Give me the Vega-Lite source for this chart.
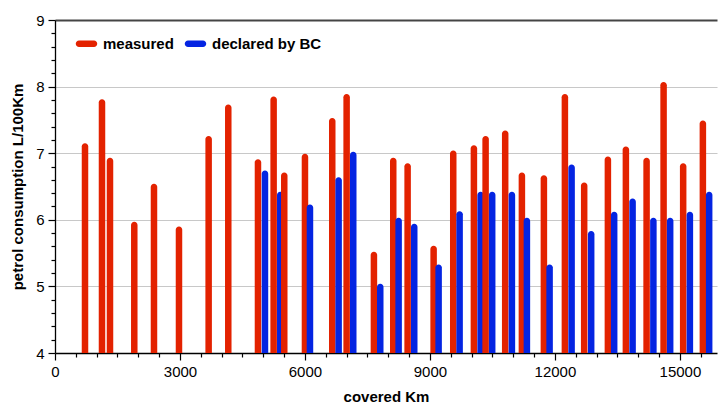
{
  "$schema": "https://vega.github.io/schema/vega-lite/v6.json",
  "width": 662,
  "height": 333,
  "autosize": {"type": "none"},
  "padding": {"left": 55, "top": 20, "right": 1, "bottom": 55},
  "background": "white",
  "config": {
    "view": {"stroke": null},
    "font": "Liberation Sans"
  },
  "data": {
    "values": [
      {"km": 720, "v": 7.15, "s": "measured"},
      {"km": 1128, "v": 7.81, "s": "measured"},
      {"km": 1320, "v": 6.93, "s": "measured"},
      {"km": 1903, "v": 5.97, "s": "measured"},
      {"km": 2376, "v": 6.54, "s": "measured"},
      {"km": 2976, "v": 5.90, "s": "measured"},
      {"km": 3688, "v": 7.26, "s": "measured"},
      {"km": 4159, "v": 7.73, "s": "measured"},
      {"km": 4872, "v": 6.91, "s": "measured"},
      {"km": 5040, "v": 6.74, "s": "declared by BC"},
      {"km": 5248, "v": 7.85, "s": "measured"},
      {"km": 5407, "v": 6.42, "s": "declared by BC"},
      {"km": 5503, "v": 6.71, "s": "measured"},
      {"km": 6000, "v": 6.99, "s": "measured"},
      {"km": 6120, "v": 6.23, "s": "declared by BC"},
      {"km": 6655, "v": 7.53, "s": "measured"},
      {"km": 6808, "v": 6.64, "s": "declared by BC"},
      {"km": 7000, "v": 7.89, "s": "measured"},
      {"km": 7159, "v": 7.02, "s": "declared by BC"},
      {"km": 7655, "v": 5.52, "s": "measured"},
      {"km": 7807, "v": 5.04, "s": "declared by BC"},
      {"km": 8119, "v": 6.93, "s": "measured"},
      {"km": 8248, "v": 6.03, "s": "declared by BC"},
      {"km": 8464, "v": 6.85, "s": "measured"},
      {"km": 8623, "v": 5.94, "s": "declared by BC"},
      {"km": 9088, "v": 5.61, "s": "measured"},
      {"km": 9208, "v": 5.33, "s": "declared by BC"},
      {"km": 9559, "v": 7.04, "s": "measured"},
      {"km": 9712, "v": 6.13, "s": "declared by BC"},
      {"km": 10055, "v": 7.12, "s": "measured"},
      {"km": 10216, "v": 6.42, "s": "declared by BC"},
      {"km": 10336, "v": 7.26, "s": "measured"},
      {"km": 10494, "v": 6.42, "s": "declared by BC"},
      {"km": 10806, "v": 7.34, "s": "measured"},
      {"km": 10967, "v": 6.42, "s": "declared by BC"},
      {"km": 11207, "v": 6.71, "s": "measured"},
      {"km": 11327, "v": 6.03, "s": "declared by BC"},
      {"km": 11735, "v": 6.67, "s": "measured"},
      {"km": 11872, "v": 5.33, "s": "declared by BC"},
      {"km": 12239, "v": 7.89, "s": "measured"},
      {"km": 12400, "v": 6.83, "s": "declared by BC"},
      {"km": 12702, "v": 6.56, "s": "measured"},
      {"km": 12870, "v": 5.83, "s": "declared by BC"},
      {"km": 13271, "v": 6.95, "s": "measured"},
      {"km": 13422, "v": 6.12, "s": "declared by BC"},
      {"km": 13703, "v": 7.10, "s": "measured"},
      {"km": 13864, "v": 6.32, "s": "declared by BC"},
      {"km": 14200, "v": 6.93, "s": "measured"},
      {"km": 14363, "v": 6.03, "s": "declared by BC"},
      {"km": 14608, "v": 8.07, "s": "measured"},
      {"km": 14766, "v": 6.03, "s": "declared by BC"},
      {"km": 15078, "v": 6.85, "s": "measured"},
      {"km": 15239, "v": 6.12, "s": "declared by BC"},
      {"km": 15551, "v": 7.49, "s": "measured"},
      {"km": 15702, "v": 6.42, "s": "declared by BC"}
    ]
  },
  "mark": {
    "type": "bar",
    "size": 6.5,
    "cornerRadiusTopLeft": 3.2,
    "cornerRadiusTopRight": 3.2,
    "clip": true
  },
  "encoding": {
    "x": {
      "field": "km",
      "type": "quantitative",
      "scale": {"domain": [0, 15890], "nice": false, "zero": false, "padding": 0},
      "axis": {
        "title": "covered Km",
        "titleFont": "Liberation Sans",
        "titleFontSize": 15,
        "titleFontWeight": "bold",
        "titleColor": "black",
        "titlePadding": 10,
        "values": [0,500,1000,1500,2000,2500,3000,3500,4000,4500,5000,5500,6000,6500,7000,7500,8000,8500,9000,9500,10000,10500,11000,11500,12000,12500,13000,13500,14000,14500,15000,15500],
        "labelExpr": "datum.value % 3000 === 0 ? datum.value : ''",
        "labelFont": "Liberation Sans",
        "labelFontSize": 15,
        "labelColor": "black",
        "labelPadding": 4,
        "labelFlush": false,
        "labelOverlap": false,
        "grid": false,
        "domainColor": "black",
        "domainWidth": 1.3,
        "tickColor": "black",
        "tickWidth": 1.2,
        "tickSize": {"condition": {"test": "datum.value % 3000 === 0", "value": 7}, "value": 4}
      }
    },
    "y": {
      "field": "v",
      "type": "quantitative",
      "scale": {"domain": [4, 9], "nice": false, "zero": false, "padding": 0},
      "axis": {
        "title": "petrol consumption L/100Km",
        "titleFont": "Liberation Sans",
        "titleFontSize": 15,
        "titleFontWeight": "bold",
        "titleColor": "black",
        "titlePadding": 10,
        "values": [4,4.2,4.4,4.6,4.8,5,5.2,5.4,5.6,5.8,6,6.2,6.4,6.6,6.8,7,7.2,7.4,7.6,7.8,8,8.2,8.4,8.6,8.8,9],
        "labelExpr": "datum.value % 1 === 0 ? datum.value : ''",
        "labelFont": "Liberation Sans",
        "labelFontSize": 15,
        "labelColor": "black",
        "labelPadding": 4,
        "labelFlush": false,
        "labelOverlap": false,
        "domainColor": "black",
        "domainWidth": 1.3,
        "tickColor": "black",
        "tickWidth": 1.2,
        "tickSize": {"condition": {"test": "datum.value % 1 === 0", "value": 7}, "value": 4},
        "grid": true,
        "gridColor": {"condition": {"test": "datum.value === 9", "value": "#444444"}, "value": "#c8c8c8"},
        "gridWidth": {"condition": {"test": "datum.value === 9", "value": 2}, "value": 1.2},
        "gridOpacity": {"condition": {"test": "datum.value % 1 === 0 && datum.value > 4", "value": 1}, "value": 0}
      }
    },
    "y2": {"datum": 4},
    "color": {
      "field": "s",
      "type": "nominal",
      "scale": {"domain": ["measured", "declared by BC"], "range": ["#e32200", "#0424e2"]},
      "legend": {
        "title": null,
        "orient": "none",
        "legendX": 24,
        "legendY": 16,
        "direction": "horizontal",
        "symbolType": "M-1,-0.43 L1,-0.43 A0.43,0.43 0 0 1 1,0.43 L-1,0.43 A0.43,0.43 0 0 1 -1,-0.43 Z",
        "symbolSize": 225,
        "symbolStrokeWidth": 0,
        "symbolOpacity": 1,
        "labelFont": "Liberation Sans",
        "labelFontSize": 15,
        "labelFontWeight": "bold",
        "labelColor": "black",
        "labelOffset": 9,
        "columnPadding": 10
      }
    }
  }
}
